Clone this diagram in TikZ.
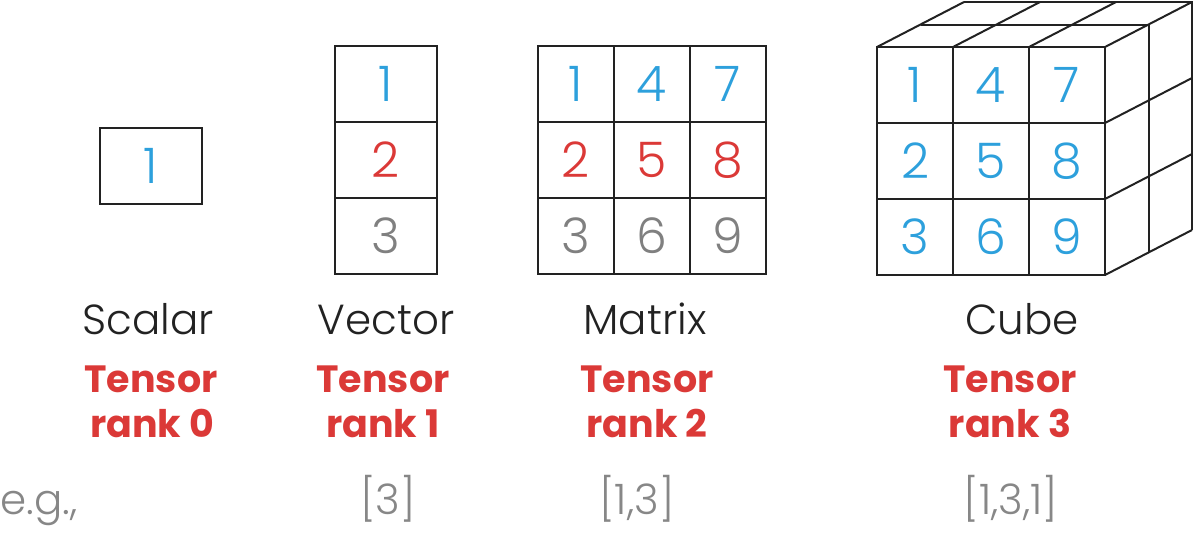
\documentclass[tikz,border=0pt]{standalone}
\usepackage{fontspec}
\setmainfont{Poppins}
\newfontfamily\lightfont{Poppins Light}
\usepackage{tikz}
\usetikzlibrary{positioning}
\definecolor{blue1}{RGB}{45, 160, 220}
\definecolor{red1}{RGB}{219, 57, 55}
\definecolor{gray1}{RGB}{128, 128, 128}
\definecolor{gray2}{RGB}{135, 135, 135}
\definecolor{ink}{RGB}{34, 34, 34}
\tikzstyle{cell} = [rectangle, draw=ink, line width=1pt, minimum width=38pt, minimum height=38pt, inner sep=0pt, outer sep=0pt, font=\lightfont\fontsize{24.5}{24.5}\selectfont]
\tikzstyle{widecell} = [cell, minimum width=51pt]
\tikzstyle{lbl} = [text=ink, anchor=base, inner sep=0pt, font=\lightfont\fontsize{21}{24}\selectfont]
\tikzstyle{rank} = [text=red1, anchor=base, inner sep=0pt, font=\bfseries\fontsize{19}{22}\selectfont]
\tikzstyle{dims} = [text=gray2, anchor=base, inner sep=0pt, font=\lightfont\fontsize{21}{24}\selectfont]
\tikzstyle{back} = [draw=ink, line width=1pt]

\begin{document}
\begin{tikzpicture}[x=0.5pt, y=-0.5pt]
\useasboundingbox (0,0) rectangle (1193,537);

% scalar =============================
\node[widecell, text=blue1] (s) at (150.5,166) {1};

% vector =============================
\node[widecell, text=blue1] (v1) at (386,84) {1};
\node[widecell, text=red1, below=0pt of v1] (v2) {2};
\node[widecell, text=gray1, below=0pt of v2] (v3) {3};

% matrix =============================
\node[cell, text=blue1] (m1) at (576,84) {1};
\node[cell, text=red1, below=0pt of m1] (m2) {2};
\node[cell, text=gray1, below=0pt of m2] (m3) {3};
\node[cell, text=blue1, right=0pt of m1] (m4) {4};
\node[cell, text=red1, below=0pt of m4] (m5) {5};
\node[cell, text=gray1, below=0pt of m5] (m6) {6};
\node[cell, text=blue1, right=0pt of m4] (m7) {7};
\node[cell, text=red1, below=0pt of m7] (m8) {8};
\node[cell, text=gray1, below=0pt of m8] (m9) {9};

% cube =============================
\node[cell, text=blue1] (c1) at (915,85) {1};
\node[cell, text=blue1, below=0pt of c1] (c2) {2};
\node[cell, text=blue1, below=0pt of c2] (c3) {3};
\node[cell, text=blue1, right=0pt of c1] (c4) {4};
\node[cell, text=blue1, below=0pt of c4] (c5) {5};
\node[cell, text=blue1, below=0pt of c5] (c6) {6};
\node[cell, text=blue1, right=0pt of c4] (c7) {7};
\node[cell, text=blue1, below=0pt of c7] (c8) {8};
\node[cell, text=blue1, below=0pt of c8] (c9) {9};

\draw[back] (c1.north west) -- ++(87,-45);
\draw[back] (c4.north west) -- ++(87,-45);
\draw[back] (c7.north west) -- ++(87,-45);
\draw[back] (c7.north east) -- ++(87,-45);
\draw[back] (c8.north east) -- ++(87,-45);
\draw[back] (c9.north east) -- ++(87,-45);
\draw[back] (c9.south east) -- ++(87,-45);
\draw[back] ([shift={(43.5,-22.5)}]c1.north west) -- ([shift={(43.5,-22.5)}]c7.north east) -- ([shift={(43.5,-22.5)}]c9.south east);
\draw[back] ([shift={(87,-45)}]c1.north west) -- ([shift={(87,-45)}]c7.north east) -- ([shift={(87,-45)}]c9.south east);

% labels =============================
\node[lbl] (sname) at (148,334) {Scalar};
\node[lbl] (vname) at (386,334) {Vector};
\node[lbl] (mname) at (645,334) {Matrix};
\node[lbl] (cname) at (1022,334) {Cube};

\node[rank] (s1) at (151,392) {Tensor};
\node[rank] (s2) at (152,437) {rank 0};
\node[rank] (v1r) at (383,392) {Tensor};
\node[rank] (v2r) at (383,437) {rank 1};
\node[rank] (m1r) at (647,392) {Tensor};
\node[rank] (m2r) at (647,437) {rank 2};
\node[rank] (c1r) at (1010,392) {Tensor};
\node[rank] (c2r) at (1010,437) {rank 3};

\node[dims, anchor=base west] (eg) at (0,514) {e.g.,};
\node[dims] (vdim) at (388,514) {[3]};
\node[dims] (mdim) at (637,514) {[1,3]};
\node[dims] (cdim) at (1011,514) {[1,3,1]};

\end{tikzpicture}
\end{document}
